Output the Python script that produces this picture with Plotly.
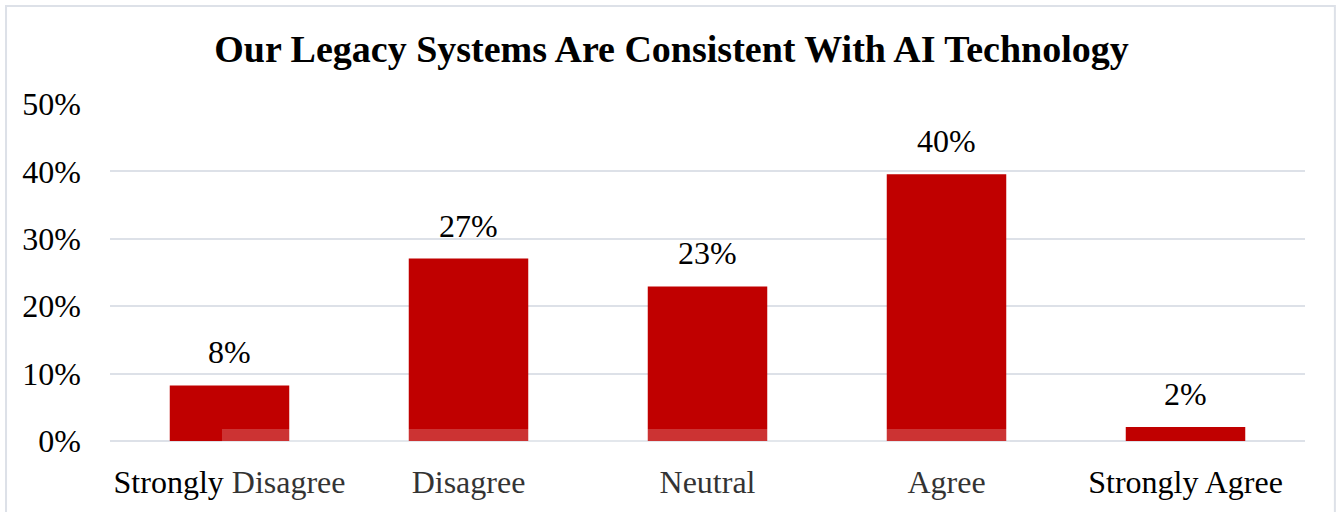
import plotly.graph_objects as go

categories = ["Strongly Disagree", "Disagree", "Neutral", "Agree", "Strongly Agree"]
values = [8.24, 27.06, 22.94, 39.56, 2.06]
labels = ["8%", "27%", "23%", "40%", "2%"]
tick_vals = [0, 10, 20, 30, 40, 50]
tick_text = ["0%", "10%", "20%", "30%", "40%", "50%"]

FONT = "Liberation Serif, Times New Roman, serif"

fig = go.Figure()
fig.add_trace(go.Bar(
    x=categories, y=values,
    marker=dict(color="#C00000", line=dict(width=0)),
    hoverinfo="skip",
))

for c, v, t in zip(categories, values, labels):
    fig.add_annotation(x=c, y=v, text=t, showarrow=False, yanchor="bottom",
                       yshift=13, font=dict(family=FONT, size=32, color="#000000"))

# chart border
fig.add_shape(type="rect", xref="paper", yref="paper",
              x0=-0.087, x1=1.025, y0=-0.4, y1=1.291,
              line=dict(color="#DDE1E8", width=2), fillcolor="rgba(0,0,0,0)", layer="below")
# faint watermark band
fig.add_shape(type="rect", xref="paper", yref="paper",
              x0=0.0937, x1=0.753, y0=-0.25, y1=0.0353,
              line=dict(width=0), fillcolor="rgba(255,255,255,0.2)", layer="above")

fig.update_layout(
    width=1343, height=512,
    margin=dict(l=110, r=38, t=104, b=68),
    paper_bgcolor="#FFFFFF", plot_bgcolor="#FFFFFF",
    bargap=0.5,
    showlegend=False,
    title=dict(text="<b>Our Legacy Systems Are Consistent With AI Technology</b>",
               x=0.5, xanchor="center", y=1 - 49 / 512, yanchor="middle",
               font=dict(family=FONT, size=38, color="#000000")),
    font=dict(family=FONT, size=32, color="#000000"),
    xaxis=dict(showgrid=False, showline=False, zeroline=False, ticks="",
               tickfont=dict(family=FONT, size=32, color="#000000"),
               ticklabelstandoff=19),
    yaxis=dict(range=[0, 50], tickvals=tick_vals, ticktext=tick_text,
               showgrid=True, gridcolor="#DDE1E8", gridwidth=2,
               zeroline=True, zerolinecolor="#DDE1E8", zerolinewidth=2,
               showline=False, ticks="",
               tickfont=dict(family=FONT, size=32, color="#000000"),
               ticklabelstandoff=28),
)

fig.write_html("out.html")
